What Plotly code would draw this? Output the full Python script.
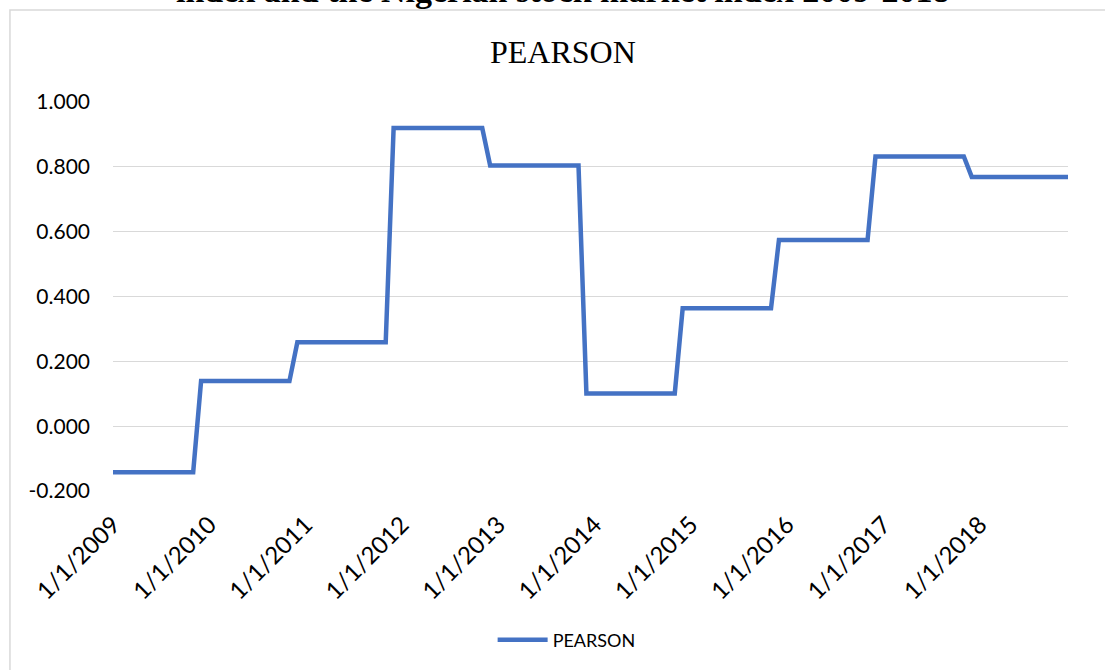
import pandas as pd
import plotly.graph_objects as go

# ── data ────────────────────────────────────────────────────────────────
# monthly points, Jan 2009 .. Dec 2018; each yearly level starts one month early
meses = pd.date_range("2009-01-01", "2018-12-01", freq="MS")
pearson = (
    [-0.142, -0.142, -0.142, -0.142, -0.142, -0.142,
     -0.142, -0.142, -0.142, -0.142, -0.142]
    + [0.139, 0.139, 0.139, 0.139, 0.139, 0.139,
       0.139, 0.139, 0.139, 0.139, 0.139, 0.139]
    + [0.259, 0.259, 0.259, 0.259, 0.259, 0.259,
       0.259, 0.259, 0.259, 0.259, 0.259, 0.259]
    + [0.920, 0.920, 0.920, 0.920, 0.920, 0.920,
       0.920, 0.920, 0.920, 0.920, 0.920, 0.920]
    + [0.804, 0.804, 0.804, 0.804, 0.804, 0.804,
       0.804, 0.804, 0.804, 0.804, 0.804, 0.804]
    + [0.101, 0.101, 0.101, 0.101, 0.101, 0.101,
       0.101, 0.101, 0.101, 0.101, 0.101, 0.101]
    + [0.364, 0.364, 0.364, 0.364, 0.364, 0.364,
       0.364, 0.364, 0.364, 0.364, 0.364, 0.364]
    + [0.574, 0.574, 0.574, 0.574, 0.574, 0.574,
       0.574, 0.574, 0.574, 0.574, 0.574, 0.574]
    + [0.832, 0.832, 0.832, 0.832, 0.832, 0.832,
       0.832, 0.832, 0.832, 0.832, 0.832, 0.832]
    + [0.769, 0.769, 0.769, 0.769, 0.769, 0.769, 0.769,
       0.769, 0.769, 0.769, 0.769, 0.769, 0.769]
)

x_ticks = pd.date_range("2009-01-01", "2018-01-01", freq="YS")
x_ticktext = [f"1/1/{d.year}" for d in x_ticks]
y_ticks = [-0.2, 0.0, 0.2, 0.4, 0.6, 0.8, 1.0]
y_ticktext = ["-0.200", "0.000", "0.200", "0.400", "0.600", "0.800", "1.000"]

# ── estilo ───────────────────────────────────────────────────────────────
AZUL = "#4472C4"
GRADE = "#D9D9D9"
TINTA = "#000000"
FONTE = "Lato, sans-serif"
SERIF = "'Liberation Serif', 'Times New Roman', serif"

fig = go.Figure()
fig.add_scatter(
    x=meses, y=pearson, mode="lines", name="PEARSON",
    line=dict(color=AZUL, width=4.5),
)

fig.update_layout(
    width=1105, height=670,
    paper_bgcolor="#ffffff", plot_bgcolor="#ffffff",
    margin=dict(l=113, r=37, t=102, b=179, autoexpand=False),
    font=dict(family=FONTE, color=TINTA, size=20),
    showlegend=True,
    legend=dict(orientation="h", x=0.475, y=-0.383, xanchor="center",
                yanchor="middle", font=dict(size=18), itemwidth=50),
    xaxis=dict(
        range=[meses[0], meses[-1]], tickvals=x_ticks, ticktext=x_ticktext,
        tickangle=-45, showgrid=False, zeroline=False, showline=False,
        ticks="", ticklabelstandoff=14, tickfont=dict(size=24),
    ),
    yaxis=dict(
        range=[-0.2, 1.0], tickvals=y_ticks, ticktext=y_ticktext,
        showgrid=True, gridcolor=GRADE, gridwidth=1.3, zeroline=False,
        showline=False, ticks="", ticklabelstandoff=22, tickfont=dict(size=21),
    ),
    shapes=[dict(
        type="rect", xref="paper", yref="paper",
        x0=-0.1079, x1=1.1, y0=-0.5, y1=1.2365,
        line=dict(color=GRADE, width=1.5), fillcolor="rgba(0,0,0,0)", layer="below",
    )],
    annotations=[
        dict(text="PEARSON", x=0.471, y=1.128, xref="paper", yref="paper",
             showarrow=False, xanchor="center", yanchor="middle",
             font=dict(family=SERIF, size=32, color=TINTA)),
        dict(text="<b>index and the Nigerian stock market index 2009-2018</b>",
             x=0.471, y=1.235, xref="paper", yref="paper",
             showarrow=False, xanchor="center", yanchor="bottom",
             font=dict(family=SERIF, size=34, color=TINTA)),
    ],
)

# pagina sem a margem padrao do <body>, para o grafico ficar em (0, 0)
fig.write_html("out.html", config={"displayModeBar": False},
               post_script="document.body.style.margin='0px';")
